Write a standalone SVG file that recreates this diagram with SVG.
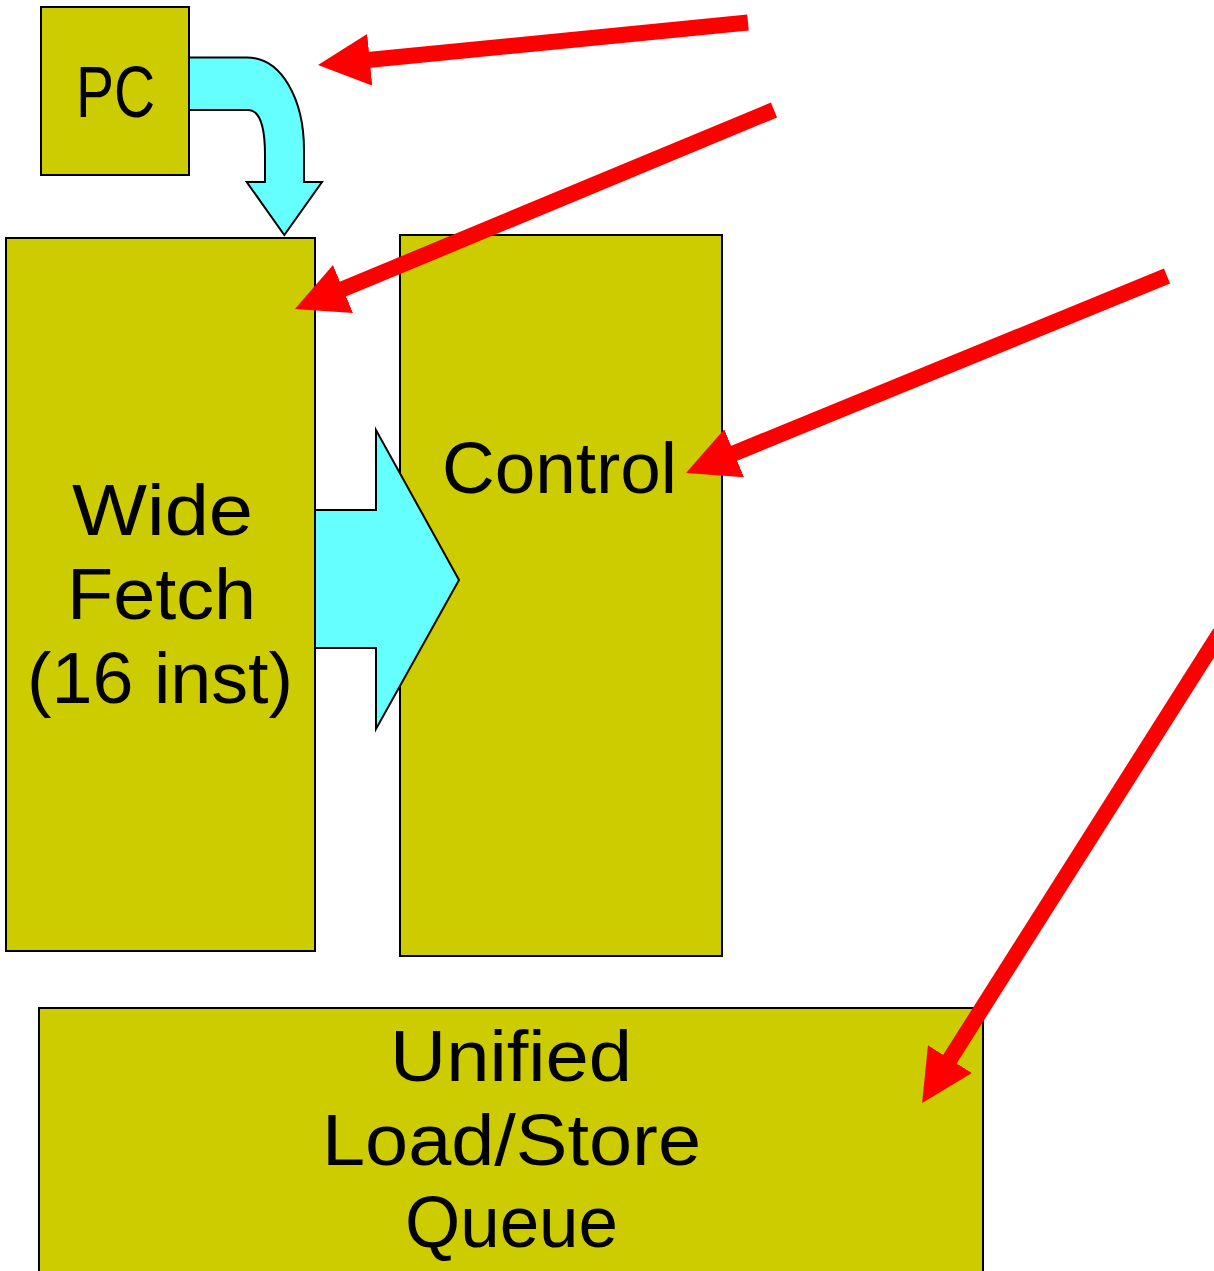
<svg xmlns="http://www.w3.org/2000/svg" width="1214" height="1271" viewBox="0 0 1214 1271">
  <style>
    .box { fill: #CCCC00; stroke: #000; stroke-width: 2; }
    .cyan { fill: #66FFFF; stroke: #000; stroke-width: 2; stroke-linejoin: miter; }
    .lbl { font-family: "Liberation Sans", Arial, sans-serif; font-size: 72px; fill: #000; text-anchor: middle; }
    .red { stroke: #FF0000; stroke-width: 16; fill: none; marker-end: url(#redhead); }
  </style>
  <defs>
    <marker id="redhead" markerUnits="userSpaceOnUse" markerWidth="52" markerHeight="52" viewBox="0 0 52 52" refX="12" refY="26" orient="auto">
      <path d="M0,0 L52,26 L0,52 Z" fill="#FF0000"/>
    </marker>
  </defs>
  <rect width="1214" height="1271" fill="#FFFFFF"/>

  <g id="node-pc">
    <rect class="box" x="41" y="7" width="148" height="168"/>
    <text class="lbl" x="115.5" y="117" textLength="79" lengthAdjust="spacingAndGlyphs">PC</text>
  </g>

  <g id="node-control">
    <rect class="box" x="400" y="235" width="322" height="721"/>
    <text class="lbl" x="559.5" y="493" textLength="235" lengthAdjust="spacingAndGlyphs">Control</text>
  </g>

  <g id="node-fetch">
    <rect class="box" x="6" y="238" width="309" height="713"/>
    <text class="lbl" x="162.5" y="535" textLength="181" lengthAdjust="spacingAndGlyphs">Wide</text>
    <text class="lbl" x="161.5" y="619" textLength="189" lengthAdjust="spacingAndGlyphs">Fetch</text>
    <text class="lbl" x="160" y="703" textLength="266" lengthAdjust="spacingAndGlyphs">(16 inst)</text>
  </g>

  <g id="node-lsq">
    <rect class="box" x="39" y="1008" width="944" height="300"/>
    <text class="lbl" x="511" y="1081" textLength="242" lengthAdjust="spacingAndGlyphs">Unified</text>
    <text class="lbl" x="511.5" y="1165" textLength="379" lengthAdjust="spacingAndGlyphs">Load/Store</text>
    <text class="lbl" x="511.5" y="1247" textLength="213" lengthAdjust="spacingAndGlyphs">Queue</text>
  </g>

  <g id="connectors">
    <path id="pc-to-fetch" class="cyan" d="M189,57.5 L247,57.5 C282,57.5 304,100 304,150 L304,182 L322,182 L284.3,235 L246.7,182 L265,182 L265,155 C265,125 259,110 248,110 L189,110 Z"/>
    <path id="fetch-to-control" class="cyan" d="M315,510 L376,510 L376,430 L459,580 L376,729 L376,648 L315,648 Z"/>
    <line class="red" x1="748" y1="22.5" x2="357.8" y2="61"/>
    <line class="red" x1="774" y1="110" x2="331.9" y2="293.7"/>
    <line class="red" x1="1167" y1="276" x2="723" y2="457.8"/>
    <line class="red" x1="1220" y1="633" x2="943.5" y2="1069.2"/>
  </g>
</svg>
